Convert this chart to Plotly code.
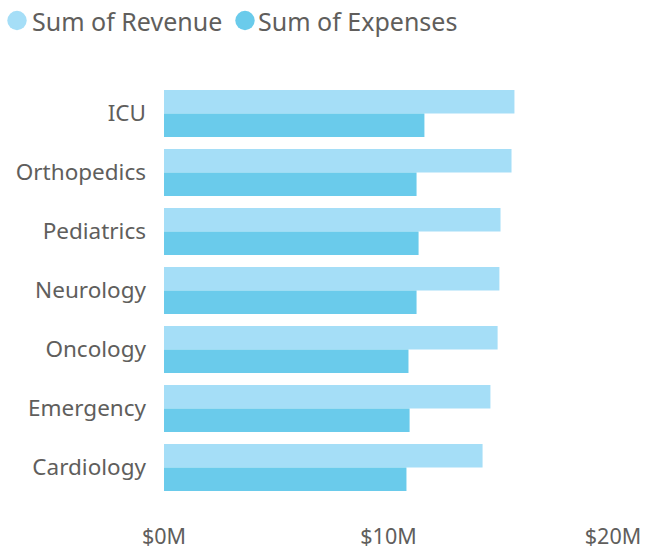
import plotly.graph_objects as go

departments = ["ICU", "Orthopedics", "Pediatrics", "Neurology", "Oncology", "Emergency", "Cardiology"]
revenue = [15.61, 15.48, 14.99, 14.94, 14.86, 14.54, 14.19]
expenses = [11.60, 11.25, 11.34, 11.25, 10.89, 10.94, 10.80]
series_names = ["Sum of Revenue", "Sum of Expenses"]
tick_vals = [0, 10, 20]
tick_text = ["$0M", "$10M", "$20M"]

rev_color = "#A5DEF7"
exp_color = "#6ACBEB"
text_color = "#605E5C"
font_family = "Segoe UI, Noto Sans, Open Sans, sans-serif"

W, H = 653, 549
L, R, T, B = 164, 40, 84, 52
pw, ph = W - L - R, H - T - B

def px_x(p):
    return (p - L) / pw

def px_y(p):
    return 1 - (p - T) / ph

fig = go.Figure()
fig.add_trace(go.Bar(y=departments, x=revenue, orientation="h", name=series_names[0],
                     marker=dict(color=rev_color, line=dict(width=0)), showlegend=False))
fig.add_trace(go.Bar(y=departments, x=expenses, orientation="h", name=series_names[1],
                     marker=dict(color=exp_color, line=dict(width=0)), showlegend=False))

# legend drawn as circles + text
legend_items = [(17, 32, rev_color, series_names[0]), (245, 258, exp_color, series_names[1])]
shapes = []
annotations = []
for cx, tx, col, name in legend_items:
    shapes.append(dict(type="circle", xref="paper", yref="paper", xsizemode="pixel", ysizemode="pixel",
                       xanchor=px_x(cx), yanchor=px_y(20.5), x0=-9.7, x1=9.7, y0=-9.7, y1=9.7,
                       fillcolor=col, line=dict(width=0)))
    annotations.append(dict(text=name, xref="paper", yref="paper", x=px_x(tx - 2), y=px_y(21),
                            xanchor="left", yanchor="middle", showarrow=False,
                            font=dict(size=25, color=text_color, family=font_family)))

fig.update_layout(
    width=W, height=H,
    barmode="group", bargap=0.2, bargroupgap=0,
    margin=dict(l=L, r=R, t=T, b=B, autoexpand=False),
    paper_bgcolor="white", plot_bgcolor="white",
    font=dict(family=font_family, color=text_color, size=22),
    showlegend=False,
    shapes=shapes, annotations=annotations,
    xaxis=dict(range=[0, 20], tickvals=tick_vals, ticktext=tick_text, showgrid=False,
               zeroline=False, showline=False, ticks="", ticklabelstandoff=24,
               tickfont=dict(size=21.5, color=text_color), fixedrange=True),
    yaxis=dict(autorange="reversed", showgrid=False, zeroline=False, showline=False,
               ticks="", ticklabelstandoff=17, tickfont=dict(size=22.5, color=text_color)),
)

fig.write_html("out.html", config={"displayModeBar": False},
               post_script="document.body.style.margin='0';")
